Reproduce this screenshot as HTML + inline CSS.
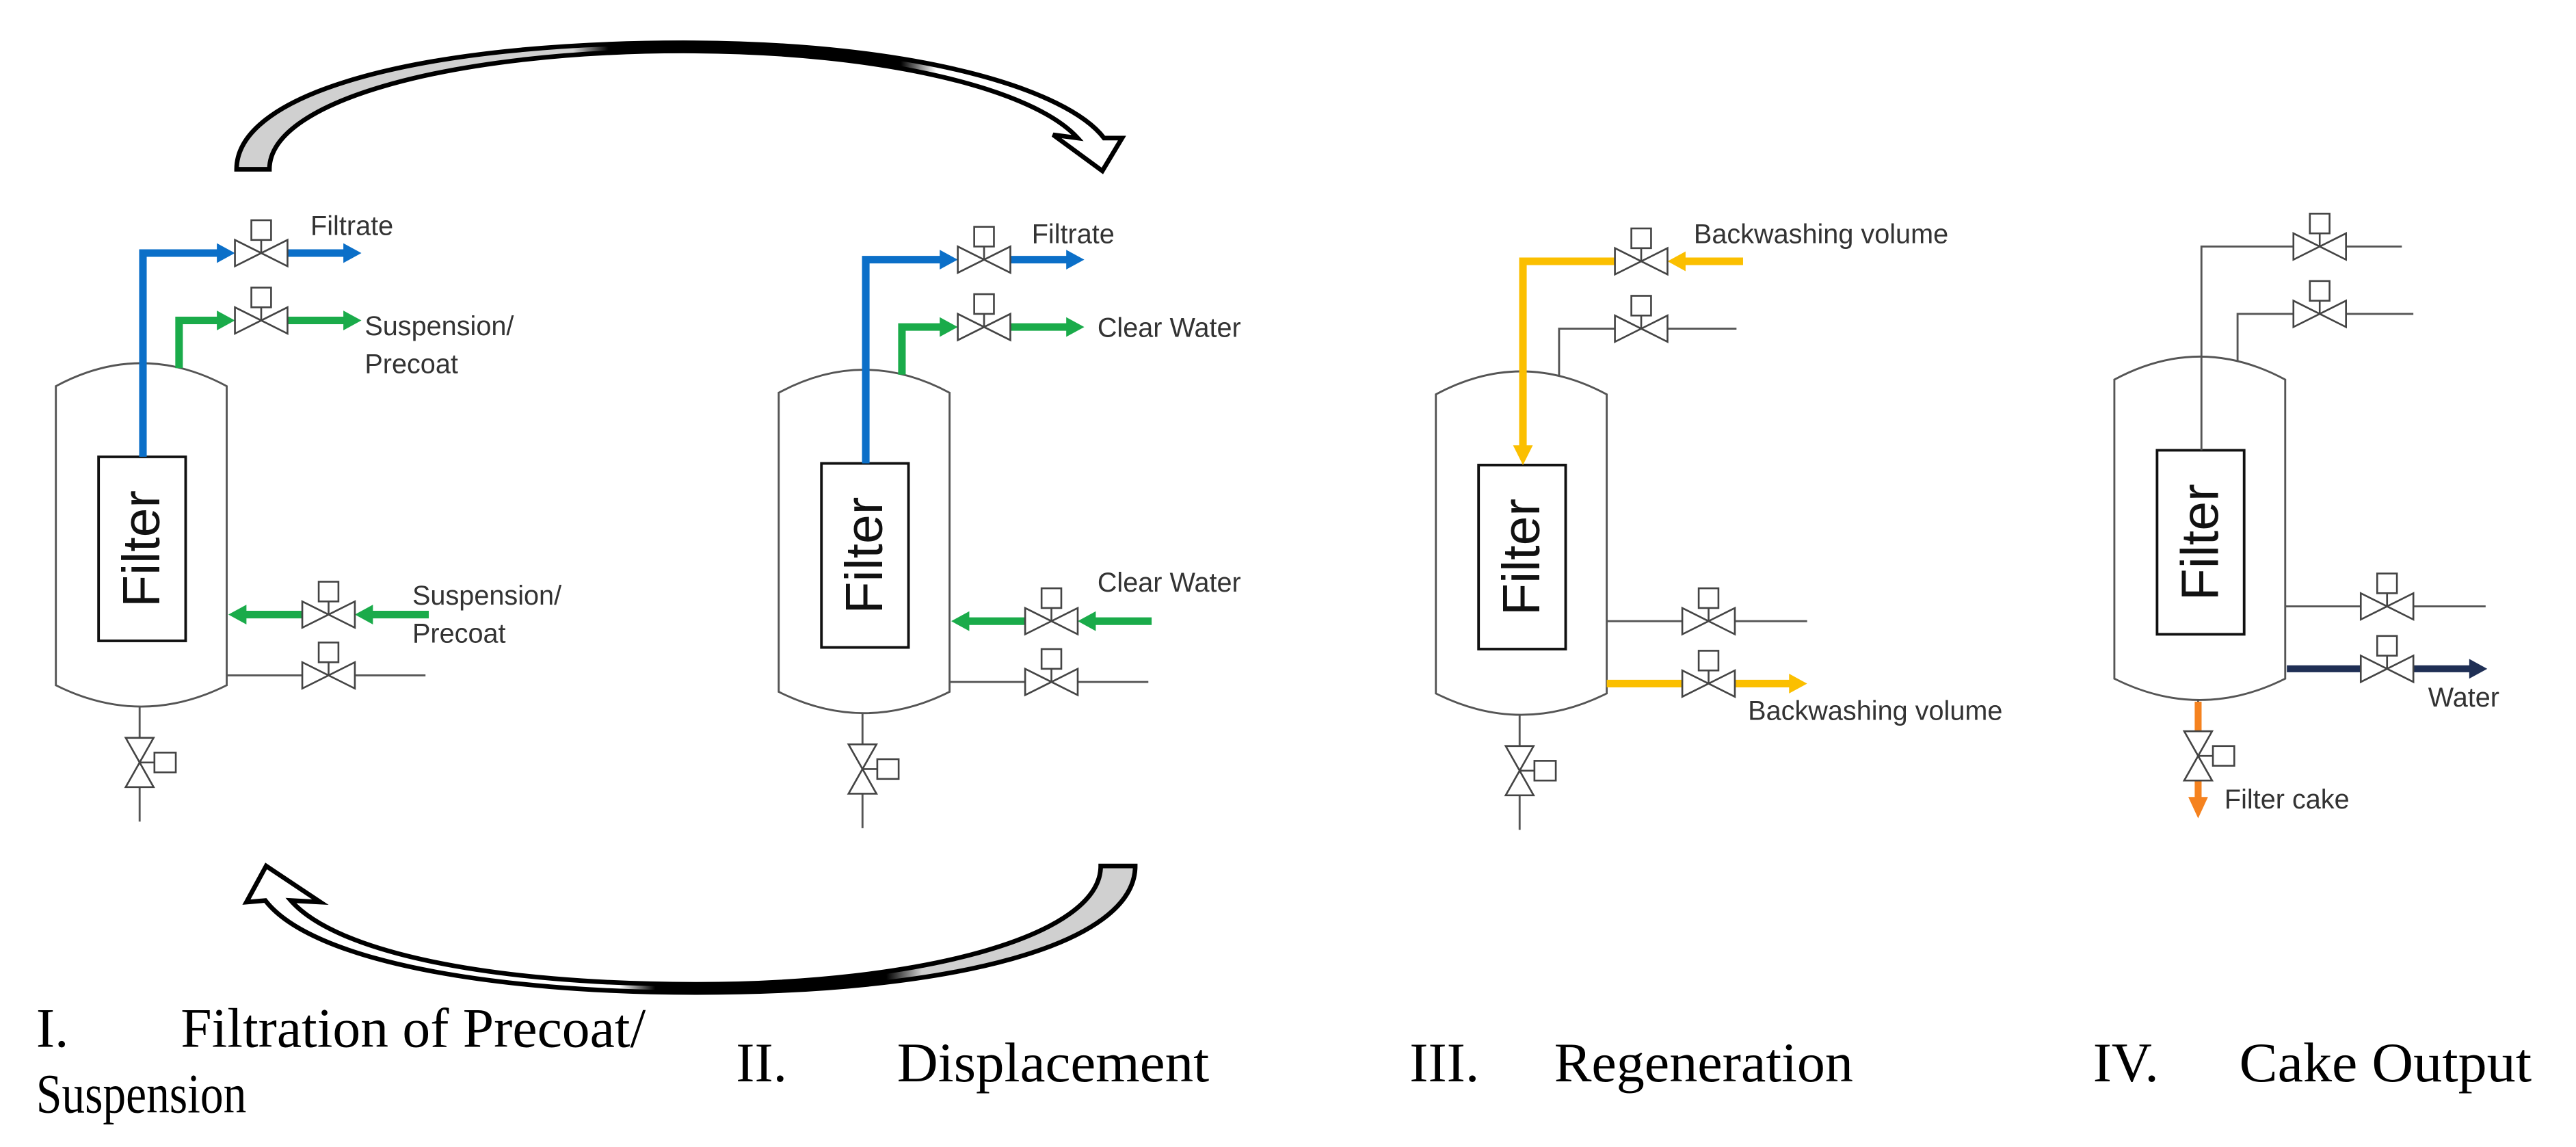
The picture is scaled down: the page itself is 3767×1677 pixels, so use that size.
<!DOCTYPE html>
<html><head><meta charset="utf-8"><style>
html,body{margin:0;padding:0;background:#fff;}
svg{display:block;}
.s{font-family:"Liberation Sans",Arial,sans-serif;fill:#333;font-size:16.5px;}
.c{font-family:"Liberation Serif",serif;fill:#000;font-size:34px;}
</style></head><body>
<svg width="3767" height="1677" viewBox="0 0 1568 698" xmlns="http://www.w3.org/2000/svg">
<defs>
<g id="hv"><path d="M-16,-8 L-16,8 L16,-8 L16,8 Z" fill="#fff" stroke="#444" stroke-width="1.1"/><line x1="0" y1="0" x2="0" y2="-8" stroke="#444" stroke-width="1.1"/><rect x="-6" y="-20" width="12" height="12" fill="#fff" stroke="#444" stroke-width="1.1"/></g>
<g id="vv"><path d="M-8.5,-15 L8.5,-15 L-8.5,15 L8.5,15 Z" fill="#fff" stroke="#444" stroke-width="1.1"/><line x1="0" y1="0" x2="9" y2="0" stroke="#444" stroke-width="1.1"/><rect x="9" y="-6" width="13" height="12" fill="#fff" stroke="#444" stroke-width="1.1"/></g>
<g id="vessel"><path d="M34,235 Q86,207 138,235 L138,417 Q86,443 34,417 Z" fill="#fff" stroke="#555" stroke-width="1.2"/>
<rect x="60" y="278" width="53" height="112" fill="none" stroke="#111" stroke-width="1.6"/>
<text transform="translate(97,334) rotate(-90)" text-anchor="middle" style="font-family:'Liberation Sans',Arial,sans-serif;font-size:32px;fill:#111">Filter</text>
<line x1="85" y1="430" x2="85" y2="500" stroke="#555" stroke-width="1.2"/>
</g>
<linearGradient id="g1" x1="0" y1="0" x2="1" y2="0"><stop offset="0" stop-color="#d0d0d0"/><stop offset="0.38" stop-color="#d0d0d0"/><stop offset="0.42" stop-color="#000"/><stop offset="0.75" stop-color="#000"/><stop offset="0.79" stop-color="#fff"/><stop offset="1" stop-color="#fff"/></linearGradient>
<linearGradient id="g2" x1="0" y1="0" x2="1" y2="0"><stop offset="0" stop-color="#fff"/><stop offset="0.42" stop-color="#fff"/><stop offset="0.46" stop-color="#000"/><stop offset="0.72" stop-color="#000"/><stop offset="0.76" stop-color="#d0d0d0"/><stop offset="1" stop-color="#d0d0d0"/></linearGradient>
</defs>

<path d="M144,103 C144,55 260,26 416,26 C560,26 650,55 672,84 L683,84 L671,104 L641,82 L656,84 C630,55 540,31 416,31 C280,31 164,60 164,103 Z" fill="url(#g1)" stroke="#000" stroke-width="2.8"/>
<path d="M691,527 C691,575 580,604 424,604 C300,604 190,585 161.5,548 L150,549 L162,527 L195,549 L177,548 C205,580 300,599 424,599 C560,599 670,570 670,527 Z" fill="url(#g2)" stroke="#000" stroke-width="2.8"/>

<!-- D1 -->
<g>
<use href="#vessel"/>
<g stroke-width="4.6" fill="none">
<polyline points="87,278 87,154 134,154" stroke="#0b6fc8"/>
<line x1="175" y1="154" x2="211" y2="154" stroke="#0b6fc8"/>
<polyline points="109,224 109,195 134,195" stroke="#1aab4a"/>
<line x1="175" y1="195" x2="211" y2="195" stroke="#1aab4a"/>
<line x1="261" y1="374" x2="225" y2="374" stroke="#1aab4a"/>
<line x1="184" y1="374" x2="148" y2="374" stroke="#1aab4a"/>
</g>
<polygon points="143,154 132,148 132,160" fill="#0b6fc8"/>
<polygon points="220,154 209,148 209,160" fill="#0b6fc8"/>
<polygon points="143,195 132,189 132,201" fill="#1aab4a"/>
<polygon points="220,195 209,189 209,201" fill="#1aab4a"/>
<polygon points="216,374 227,368 227,380" fill="#1aab4a"/>
<polygon points="139,374 150,368 150,380" fill="#1aab4a"/>
<line x1="138" y1="411" x2="259" y2="411" stroke="#555" stroke-width="1.2"/>
<use href="#hv" x="159" y="154"/><use href="#hv" x="159" y="195"/>
<use href="#hv" x="200" y="374"/><use href="#hv" x="200" y="411"/>
<use href="#vv" x="85" y="464"/>
<text class="s" x="189" y="143">Filtrate</text>
<text class="s" x="222" y="204">Suspension/</text><text class="s" x="222" y="227">Precoat</text>
<text class="s" x="251" y="368">Suspension/</text><text class="s" x="251" y="391">Precoat</text>
</g>

<!-- D2 -->
<g transform="translate(440,4)">
<use href="#vessel"/>
<g stroke-width="4.6" fill="none">
<polyline points="87,278 87,154 134,154" stroke="#0b6fc8"/>
<line x1="175" y1="154" x2="211" y2="154" stroke="#0b6fc8"/>
<polyline points="109,224 109,195 134,195" stroke="#1aab4a"/>
<line x1="175" y1="195" x2="211" y2="195" stroke="#1aab4a"/>
<line x1="261" y1="374" x2="225" y2="374" stroke="#1aab4a"/>
<line x1="184" y1="374" x2="148" y2="374" stroke="#1aab4a"/>
</g>
<polygon points="143,154 132,148 132,160" fill="#0b6fc8"/>
<polygon points="220,154 209,148 209,160" fill="#0b6fc8"/>
<polygon points="143,195 132,189 132,201" fill="#1aab4a"/>
<polygon points="220,195 209,189 209,201" fill="#1aab4a"/>
<polygon points="216,374 227,368 227,380" fill="#1aab4a"/>
<polygon points="139,374 150,368 150,380" fill="#1aab4a"/>
<line x1="138" y1="411" x2="259" y2="411" stroke="#555" stroke-width="1.2"/>
<use href="#hv" x="159" y="154"/><use href="#hv" x="159" y="195"/>
<use href="#hv" x="200" y="374"/><use href="#hv" x="200" y="411"/>
<use href="#vv" x="85" y="464"/>
<text class="s" x="188" y="144">Filtrate</text>
<text class="s" x="228" y="201">Clear Water</text>
<text class="s" x="228" y="356">Clear Water</text>
</g>

<!-- D3 -->
<g transform="translate(840,5)">
<use href="#vessel"/>
<g stroke-width="4.6" fill="none">
<line x1="221" y1="154" x2="184" y2="154" stroke="#fbbf00"/>
<polyline points="143,154 87,154 87,268" stroke="#fbbf00"/>
<line x1="138" y1="411" x2="184" y2="411" stroke="#fbbf00"/>
<line x1="216" y1="411" x2="251" y2="411" stroke="#fbbf00"/>
</g>
<polygon points="175,154 186,148 186,160" fill="#fbbf00"/>
<polygon points="87,278 81,266 93,266" fill="#fbbf00"/>
<polygon points="260,411 249,405 249,417" fill="#fbbf00"/>
<polyline points="109,224 109,195 143,195" fill="none" stroke="#555" stroke-width="1.2"/>
<line x1="175" y1="195" x2="217" y2="195" stroke="#555" stroke-width="1.2"/>
<line x1="138" y1="373" x2="260" y2="373" stroke="#555" stroke-width="1.2"/>
<use href="#hv" x="159" y="154"/><use href="#hv" x="159" y="195"/>
<use href="#hv" x="200" y="373"/><use href="#hv" x="200" y="411"/>
<use href="#vv" x="85" y="464"/>
<text class="s" x="191" y="143">Backwashing volume</text>
<text class="s" x="224" y="433">Backwashing volume</text>
</g>

<!-- D4 -->
<g transform="translate(1253,-4)">
<use href="#vessel"/>
<polyline points="87,278 87,154 143,154" fill="none" stroke="#555" stroke-width="1.2"/>
<line x1="175" y1="154" x2="209" y2="154" stroke="#555" stroke-width="1.2"/>
<polyline points="109,224 109,195 143,195" fill="none" stroke="#555" stroke-width="1.2"/>
<line x1="175" y1="195" x2="216" y2="195" stroke="#555" stroke-width="1.2"/>
<line x1="138" y1="373" x2="260" y2="373" stroke="#555" stroke-width="1.2"/>
<g stroke-width="4.2" fill="none">
<line x1="139" y1="411" x2="184" y2="411" stroke="#1f2f55"/>
<line x1="216" y1="411" x2="252" y2="411" stroke="#1f2f55"/>
<line x1="85" y1="431" x2="85" y2="449" stroke="#f5821f"/>
<line x1="85" y1="479" x2="85" y2="491" stroke="#f5821f"/>
</g>
<polygon points="261,411 250,405 250,417" fill="#1f2f55"/>
<polygon points="85,502 79,489 91,489" fill="#f5821f"/>
<use href="#hv" x="159" y="154"/><use href="#hv" x="159" y="195"/>
<use href="#hv" x="200" y="373"/><use href="#hv" x="200" y="411"/>
<use href="#vv" x="85" y="464"/>
<text class="s" x="225" y="434">Water</text>
<text class="s" x="101" y="496">Filter cake</text>
</g>

<text class="c" x="22" y="637">I.</text>
<text class="c" x="110" y="637" textLength="283" lengthAdjust="spacingAndGlyphs">Filtration of Precoat/</text>
<text class="c" x="22" y="677" textLength="128" lengthAdjust="spacingAndGlyphs">Suspension</text>
<text class="c" x="448" y="658">II.</text>
<text class="c" x="546" y="658" textLength="190" lengthAdjust="spacingAndGlyphs">Displacement</text>
<text class="c" x="858" y="658">III.</text>
<text class="c" x="946" y="658" textLength="182" lengthAdjust="spacingAndGlyphs">Regeneration</text>
<text class="c" x="1274" y="658">IV.</text>
<text class="c" x="1363" y="658" textLength="178" lengthAdjust="spacingAndGlyphs">Cake Output</text>
</svg>
</body></html>
